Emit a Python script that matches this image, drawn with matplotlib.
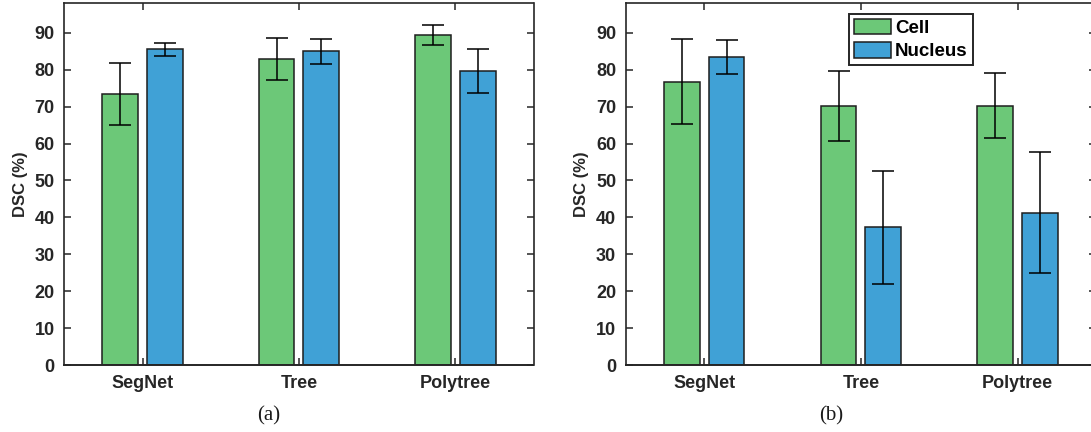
import matplotlib
matplotlib.use("Agg")
import matplotlib.pyplot as plt
import numpy as np
from matplotlib.patches import Patch

categories = ["SegNet", "Tree", "Polytree"]
series_names = ["Cell", "Nucleus"]

# panel (a)
a_cell = [73.5, 82.8, 89.4]
a_cell_err = [8.45, 5.7, 2.75]
a_nucleus = [85.5, 85.0, 79.7]
a_nucleus_err = [1.75, 3.4, 6.0]

# panel (b)
b_cell = [76.8, 70.1, 70.3]
b_cell_err = [11.5, 9.5, 8.8]
b_nucleus = [83.5, 37.3, 41.3]
b_nucleus_err = [4.6, 15.35, 16.5]

yticks = [0, 10, 20, 30, 40, 50, 60, 70, 80, 90]
captions = ["(a)", "(b)"]

GREEN = "#6cc878"
BLUE = "#40a1d6"
EDGE = "#1e1e1e"
AXC = "#262626"

W, H = 1091, 432
fig = plt.figure(figsize=(W / 100, H / 100), dpi=100)

sans = ["Liberation Sans", "DejaVu Sans"]

def px(x0, y0, x1, y1):
    return [x0 / W, 1 - y1 / H, (x1 - x0) / W, (y1 - y0) / H]

axes_boxes = [px(64.3, 3.3, 533.5, 365), px(625.8, 3.3, 1096, 365)]
data = [(a_cell, a_cell_err, a_nucleus, a_nucleus_err),
        (b_cell, b_cell_err, b_nucleus, b_nucleus_err)]
caption_x = [269, 831]

width = 0.2286
offset = 0.1429

for i, (box, (c, ce, n, ne)) in enumerate(zip(axes_boxes, data)):
    ax = fig.add_axes(box)
    x = np.arange(1, len(categories) + 1)
    ekw = dict(ecolor="black", elinewidth=1.1, capthick=1.1)
    ax.bar(x - offset, c, width, color=GREEN, edgecolor=EDGE, linewidth=1.1,
           yerr=ce, capsize=8, error_kw=ekw, zorder=2)
    ax.bar(x + offset, n, width, color=BLUE, edgecolor=EDGE, linewidth=1.1,
           yerr=ne, capsize=8, error_kw=ekw, zorder=2)
    ax.set_xlim(0.5, 3.5)
    ax.set_ylim(0, 98)
    ax.set_xticks(x)
    ax.set_xticklabels(categories)
    ax.set_yticks(yticks)
    ax.set_yticklabels([str(t) for t in yticks])
    for s in ax.spines.values():
        s.set_color(AXC)
        s.set_linewidth(1.2)
    ax.spines["bottom"].set_linewidth(1.4)
    ax.tick_params(direction="in", length=5, width=1.1, color=AXC,
                   top=True, right=True, labelcolor=AXC, labelsize=13, pad=7)
    for lab in ax.get_xticklabels() + ax.get_yticklabels():
        lab.set_fontweight("bold")
        lab.set_family(sans)
    ax.set_ylabel("DSC (%)", fontsize=12, fontweight="bold", family=sans,
                  color=AXC, labelpad=5)
    fig.text(caption_x[i] / W, 1 - 416 / H, captions[i], ha="center", va="center",
             fontsize=15, family=["Liberation Serif", "DejaVu Serif"], color="#1a1a1a")
    if i == 1:
        handles = [Patch(facecolor=GREEN, edgecolor=EDGE, linewidth=1.1),
                   Patch(facecolor=BLUE, edgecolor=EDGE, linewidth=1.1)]
        leg = ax.legend(handles, series_names, loc="upper left",
                        bbox_to_anchor=(849.3 / W, 1 - 14 / H),
                        bbox_transform=fig.transFigure,
                        prop=dict(family=sans, weight="bold", size=13.5),
                        handlelength=2.0, handleheight=0.9, handletextpad=0.2,
                        labelspacing=0.28, borderpad=0.25, borderaxespad=0,
                        fancybox=False, framealpha=1, edgecolor=AXC)
        leg.get_frame().set_linewidth(1.4)

fig.savefig("out.png", dpi=100)
